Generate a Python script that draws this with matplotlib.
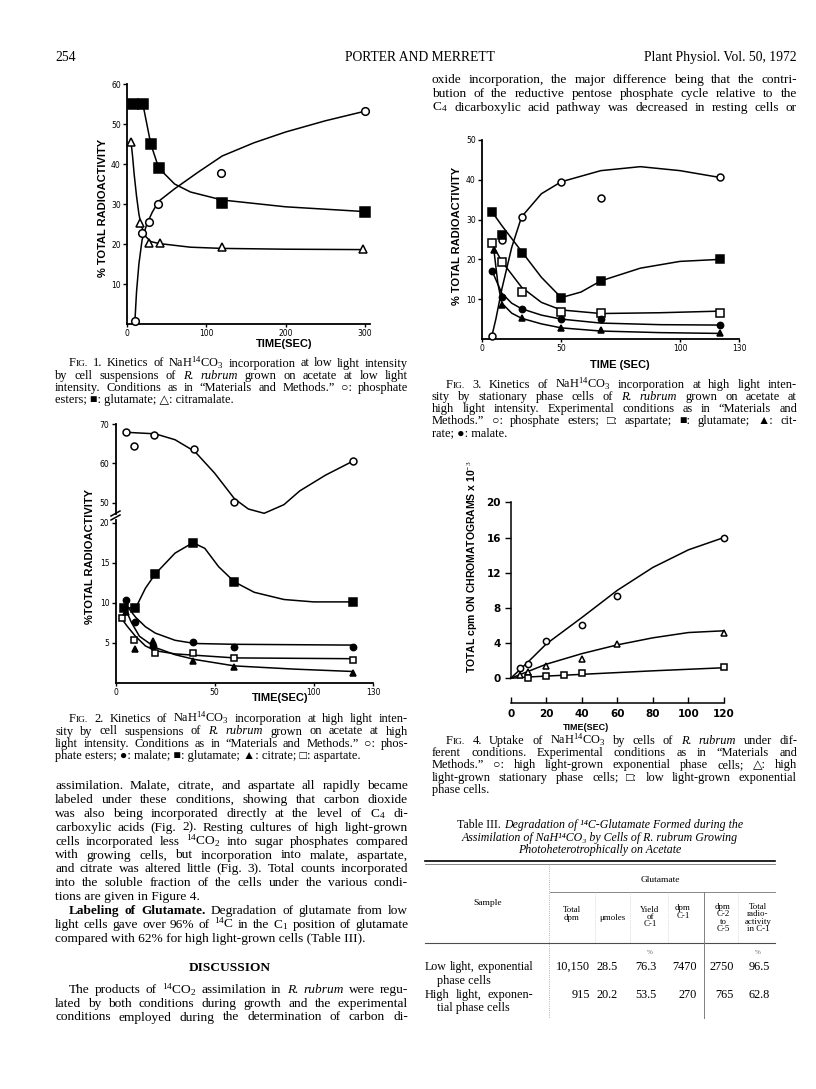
import matplotlib
matplotlib.use('Agg')
import matplotlib.pyplot as plt
from matplotlib.lines import Line2D

# ---------------- data ----------------
# Fig. 1 (low light), % total radioactivity vs time (sec)
f1_glu_t = [7, 20, 30, 40, 120, 300]
f1_glu = [55, 55, 45, 39, 30.3, 28.1]
f1_glu_ct = [7, 20, 30, 40, 60, 80, 120, 200, 300]
f1_glu_c = [55, 55, 45, 39, 35, 33, 31, 29.3, 28.1]
f1_cit_t = [5, 17, 28, 41, 120, 298]
f1_cit = [45.6, 25.2, 20.3, 20.2, 19.3, 18.7]
f1_cit_ct = [5, 7, 9, 12, 15, 18, 24, 30, 41, 80, 120, 200, 298]
f1_cit_c = [45.6, 42, 37.5, 32, 27.5, 24.5, 21.8, 20.6, 20.1, 19.2, 18.9, 18.7, 18.6]
f1_pe_t = [10, 18.5, 28, 38.7, 118.5, 300]
f1_pe = [0.75, 22.8, 25.4, 29.9, 37.7, 53.2]
f1_pe_ct = [10, 12, 15, 19, 25, 32, 40, 60, 90, 120, 160, 200, 250, 300]
f1_pe_c = [0.75, 8, 15, 21, 25, 28, 30.7, 33.8, 38, 42, 45.3, 48, 50.8, 53.2]

# Fig. 2 (high light)
f2_pe_t = [5, 9.4, 19.5, 39.7, 60, 120]
f2_pe = [67.9, 64.5, 67.2, 63.7, 50.1, 60.6]
f2_pe_ct = [5, 20, 30, 40, 50, 60, 67, 75, 85, 93, 106, 120]
f2_pe_c = [67.9, 67.5, 66, 63, 57.5, 51, 48.4, 47.3, 49.5, 53, 57, 60.6]
f2_glu_t = [4, 10, 20, 39, 60, 120]
f2_glu = [9.4, 9.3, 13.6, 17.5, 12.6, 10.1]
f2_glu_ct = [4, 10, 15, 20, 30, 39, 45, 52, 60, 70, 85, 100, 120]
f2_glu_c = [9.4, 9.3, 11.8, 13.6, 16.2, 17.5, 16.8, 14.5, 12.6, 11.3, 10.4, 10.1, 10.1]
f2_mal_t = [5, 10, 19, 39, 60, 120]
f2_mal = [10.4, 7.6, 4.6, 5.05, 4.5, 4.5]
f2_mal_ct = [5, 10, 15, 20, 30, 40, 60, 120]
f2_mal_c = [9.8, 8.2, 7.0, 6.2, 5.3, 4.9, 4.8, 4.7]
f2_cit_t = [5, 10, 19, 39, 60, 120]
f2_cit = [8.9, 4.2, 5.25, 2.7, 2.0, 1.25]
f2_cit_ct = [5, 8, 12, 20, 30, 40, 60, 90, 120]
f2_cit_c = [9.2, 7.5, 5.8, 4.4, 3.5, 2.9, 2.1, 1.7, 1.4]
f2_asp_t = [3, 9.2, 19.8, 39.2, 60, 120]
f2_asp = [8.05, 5.4, 3.75, 3.75, 3.1, 2.9]
f2_asp_ct = [3, 6, 10, 15, 20, 30, 42, 60, 120]
f2_asp_c = [8.0, 7.0, 5.8, 4.6, 4.0, 3.6, 3.4, 3.1, 3.0]

# Fig. 3 (stationary phase, high light)
f3_pe_t = [5, 10, 20, 40, 60, 120]
f3_pe = [0.8, 24.8, 30.7, 39.5, 35.5, 40.6]
f3_pe_ct = [5, 7, 10, 15, 20, 30, 40, 60, 80, 100, 120]
f3_pe_c = [0.8, 5, 12.5, 23, 30.7, 36.5, 39.5, 42.3, 43.3, 42.3, 40.6]
f3_glu_t = [5, 10, 20, 40, 60, 120]
f3_glu = [32, 26.1, 21.7, 10.4, 14.6, 20.0]
f3_glu_ct = [5, 10, 20, 30, 40, 50, 60, 80, 100, 120]
f3_glu_c = [32, 28.5, 22, 15.5, 10.4, 11.8, 14.6, 17.8, 19.5, 20]
f3_asp_t = [5, 10, 20, 40, 60, 120]
f3_asp = [24, 19.3, 11.9, 6.9, 6.45, 6.6]
f3_asp_ct = [5, 10, 20, 30, 40, 60, 90, 120]
f3_asp_c = [24, 19.5, 13, 9.2, 7.3, 6.4, 6.6, 7]
f3_mal_t = [5, 10, 20, 40, 60, 120]
f3_mal = [17.2, 10.6, 7.6, 5.0, 4.9, 3.5]
f3_mal_ct = [5, 10, 15, 20, 30, 40, 60, 90, 120]
f3_mal_c = [17.2, 11.5, 9, 7.6, 6, 5.0, 4.0, 3.6, 3.5]
f3_cit_t = [6, 10, 20, 40, 60, 120]
f3_cit = [22.4, 8.5, 5.2, 2.7, 2.3, 1.4]
f3_cit_ct = [6, 8, 10, 15, 20, 30, 40, 60, 90, 120]
f3_cit_c = [22.4, 14, 9, 6.5, 5.2, 3.8, 2.8, 2.0, 1.6, 1.4]
f3_xticks = [0, 40, 100, 130]
f3_xlabels = ['0', '50', '100', '130']

# Fig. 4, total cpm x 10^-3
f4_hx_t = [5, 10, 20, 40, 60, 120]
f4_hx = [1.2, 1.6, 4.2, 6.1, 9.3, 16.0]
f4_hx_ct = [0, 10, 20, 40, 60, 80, 100, 120]
f4_hx_c = [0, 1.9, 3.9, 6.9, 10.0, 12.6, 14.6, 16.0]
f4_hs_t = [5, 10, 20, 40, 60, 120]
f4_hs = [0.4, 0.75, 1.4, 2.2, 3.85, 5.2]
f4_hs_ct = [0, 10, 20, 40, 60, 80, 100, 120]
f4_hs_c = [0, 0.8, 1.6, 2.8, 3.8, 4.6, 5.2, 5.4]
f4_lx_t = [10, 20, 30, 40, 120]
f4_lx = [0.0, 0.3, 0.4, 0.6, 1.3]
f4_lx_ct = [0, 10, 20, 40, 80, 120]
f4_lx_c = [0, 0.15, 0.25, 0.45, 0.85, 1.2]

# Table III
tab_heads = ['Total\ndpm', '\u03bcmoles', 'Yield\nof\nC-1', 'dpm\nC-1',
             'dpm\nC-2\nto\nC-5', 'Total\nradio-\nactivity\nin C-1']
tab_low = ['10,150', '28.5', '76.3', '7470', '2750', '96.5']
tab_high = ['915', '20.2', '53.5', '270', '765', '62.8']

# ---------------- page text ----------------
# word prefixes: ~ italic, # bold, ^ small capitals
right_top = [
    "oxide incorporation, the major difference being that the contri-",
    "bution of the reductive pentose phosphate cycle relative to the",
    "C$_4$ dicarboxylic acid pathway was decreased in resting cells or",
]
cap1 = [
    "^FIG. 1. Kinetics of NaH$^{14}$CO$_3$ incorporation at low light intensity",
    "by cell suspensions of ~R. ~rubrum grown on acetate at low light",
    "intensity. Conditions as in \u201cMaterials and Methods.\u201d \u25cb: phosphate",
    "esters; \u25a0: glutamate; \u25b3: citramalate.",
]
cap2 = [
    "^FIG. 2. Kinetics of NaH$^{14}$CO$_3$ incorporation at high light inten-",
    "sity by cell suspensions of ~R. ~rubrum grown on acetate at high",
    "light intensity. Conditions as in \u201cMaterials and Methods.\u201d \u25cb: phos-",
    "phate esters; \u25cf: malate; \u25a0: glutamate; \u25b2: citrate; \u25a1: aspartate.",
]
body = [
    "assimilation. Malate, citrate, and aspartate all rapidly became",
    "labeled under these conditions, showing that carbon dioxide",
    "was also being incorporated directly at the level of C$_4$ di-",
    "carboxylic acids (Fig. 2). Resting cultures of high light-grown",
    "cells incorporated less $^{14}$CO$_2$ into sugar phosphates compared",
    "with growing cells, but incorporation into malate, aspartate,",
    "and citrate was altered little (Fig. 3). Total counts incorporated",
    "into the soluble fraction of the cells under the various condi-",
    "tions are given in Figure 4.",
    "#Labeling #of #Glutamate. Degradation of glutamate from low",
    "light cells gave over 96% of $^{14}$C in the C$_1$ position of glutamate",
    "compared with 62% for high light-grown cells (Table III).",
]
discussion = [
    "The products of $^{14}$CO$_2$ assimilation in ~R. ~rubrum were regu-",
    "lated by both conditions during growth and the experimental",
    "conditions employed during the determination of carbon di-",
]
cap3 = [
    "^FIG. 3. Kinetics of NaH$^{14}$CO$_3$ incorporation at high light inten-",
    "sity by stationary phase cells of ~R. ~rubrum grown on acetate at",
    "high light intensity. Experimental conditions as in \u201cMaterials and",
    "Methods.\u201d \u25cb: phosphate esters; \u25a1: aspartate; \u25a0: glutamate; \u25b2: cit-",
    "rate; \u25cf: malate.",
]
cap4 = [
    "^FIG. 4. Uptake of NaH$^{14}$CO$_3$ by cells of ~R. ~rubrum under dif-",
    "ferent conditions. Experimental conditions as in \u201cMaterials and",
    "Methods.\u201d \u25cb: high light-grown exponential phase cells; \u25b3: high",
    "light-grown stationary phase cells; \u25a1: low light-grown exponential",
    "phase cells.",
]
tab_title = [
    "Table III. ~Degradation ~of ~\u00b9\u2074C-Glutamate ~Formed ~during ~the",
    "~Assimilation ~of ~NaH\u00b9\u2074CO\u2083 ~by ~Cells ~of ~R. ~rubrum ~Growing",
    "~Photoheterotrophically ~on ~Acetate",
]

# ---------------- setup ----------------
W, H = 816, 1089
plt.rcParams['font.family'] = ['Liberation Serif', 'DejaVu Serif', 'DejaVu Sans']
plt.rcParams['mathtext.fontset'] = 'custom'
plt.rcParams['mathtext.rm'] = 'Liberation Serif'
plt.rcParams['mathtext.it'] = 'Liberation Serif:italic'
plt.rcParams['mathtext.bf'] = 'Liberation Serif:bold'
plt.rcParams['mathtext.default'] = 'rm'

fig = plt.figure(figsize=(W / 100, H / 100), dpi=100)
fig.patch.set_facecolor('white')
renderer = fig.canvas.get_renderer()

SANS = ['Liberation Sans', 'DejaVu Sans']
TICKF = ['DejaVu Sans']

BODY = 9.6
CAP = 8.9


def fy(y):
    return 1 - y / H


def parse(line):
    out = []
    for w in line.split(' '):
        tag = ''
        if w[:1] in '~#^':
            tag, w = w[0], w[1:]
        out.append((tag, w))
    return out


def groups(words, justify):
    # justified lines: one group per word; free lines: runs of equal style
    if justify:
        return words
    merged = []
    for tag, w in words:
        if merged and merged[-1][0] == tag and tag != '^':
            merged[-1] = (tag, merged[-1][1] + ' ' + w)
        else:
            merged.append((tag, w))
    return merged


def make_group(tag, w, size, y):
    base = dict(va='baseline', ha='left')
    if tag == '^':
        return [fig.text(0, fy(y), w[0], fontsize=size, **base),
                fig.text(0, fy(y), w[1:], fontsize=size * 0.76, **base)]
    kw = {}
    if tag == '~':
        kw['fontstyle'] = 'italic'
    elif tag == '#':
        kw['fontweight'] = 'bold'
    return [fig.text(0, fy(y), w, fontsize=size, **base, **kw)]


def put_line(line, x0, x1, y, size, justify=True, indent=0, center=False):
    start = x0 + indent
    words = groups(parse(line), justify)
    while True:
        items = [make_group(tag, w, size, y + 4) for tag, w in words]
        widths = [[t.get_window_extent(renderer).width for t in g] for g in items]
        total = sum(sum(w) for w in widths)
        gap = size * 100 / 72 * 0.34
        if justify and len(items) > 1:
            gap = (x1 - start - total) / (len(items) - 1)
        if gap >= 2.2 or len(items) < 2:
            break
        # line too long for its measure: shrink slightly and lay out again
        for g in items:
            for t in g:
                t.remove()
        size *= 0.97
    if center:
        start = (x0 + x1) / 2 - (total + gap * (len(items) - 1)) / 2
    x = start
    for g, wl in zip(items, widths):
        for t, wd in zip(g, wl):
            t.set_x(x / W)
            x += wd
        x += gap


def put_par(lines, x0, x1, y0, step, size, indent=14, last_free=True):
    for i, ln in enumerate(lines):
        free = last_free and i == len(lines) - 1
        put_line(ln, x0, x1, y0 + i * step, size, justify=not free,
                 indent=indent if i == 0 else 0)


def px_axes(x0, y0, x1, y1):
    return fig.add_axes([x0 / W, fy(y1), (x1 - x0) / W, (y1 - y0) / H])


def style(ax):
    ax.patch.set_alpha(0)
    for s in ['top', 'right']:
        ax.spines[s].set_visible(False)
    for s in ['left', 'bottom']:
        ax.spines[s].set_linewidth(1.3)
    ax.tick_params(length=3, width=1, pad=1.5)


def series(ax, t, y, ct, cy, marker, filled, ms):
    ax.plot(ct, cy, color='black', lw=1.1, zorder=2, clip_on=False)
    ax.plot(t, y, ls='none', marker=marker, ms=ms, mfc='black' if filled else 'white',
            mec='black', mew=1.1, zorder=3, clip_on=False)


def line_px(x0, y0, x1, y1, **kw):
    fig.add_artist(Line2D([x0 / W, x1 / W], [fy(y0), fy(y1)], transform=fig.transFigure, **kw))


# ---------------- header ----------------
fig.text(55 / W, fy(61), '254', fontsize=9.8, va='baseline')
fig.text(420 / W, fy(61), 'PORTER AND MERRETT', fontsize=9.8, va='baseline', ha='center')
fig.text(797 / W, fy(61), 'Plant Physiol. Vol. 50, 1972', fontsize=9.8, va='baseline', ha='right')

LX0, LX1 = 55, 408
RX0, RX1 = 432, 797
put_par(right_top, RX0, RX1, 79, 13.8, BODY, indent=0, last_free=False)

# ---------------- Fig. 1 ----------------
ax1 = px_axes(127, 84, 369.7, 324)
style(ax1)
ax1.set_xlim(0, 306)
ax1.set_ylim(0, 60)
series(ax1, f1_pe_t, f1_pe, f1_pe_ct, f1_pe_c, 'o', False, 5.5)
series(ax1, f1_glu_t, f1_glu, f1_glu_ct, f1_glu_c, 's', True, 6.5)
series(ax1, f1_cit_t, f1_cit, f1_cit_ct, f1_cit_c, '^', False, 6)
ax1.set_xticks([0, 100, 200, 300], labels=['0', '100', '200', '300'], fontsize=5.5, fontfamily=TICKF)
ax1.set_yticks([10, 20, 30, 40, 50, 60], labels=['10', '20', '30', '40', '50', '60'], fontsize=5.5, fontfamily=TICKF)
ax1.tick_params(axis='x', length=2)
fig.text(103 / W, fy(208), '% TOTAL RADIOACTIVITY', rotation=90, ha='center', va='center',
         fontsize=8, fontweight='bold', family=SANS)
fig.text(284 / W, fy(344), 'TIME(SEC)', ha='center', va='center', fontsize=8, fontweight='bold', family=SANS)
put_par(cap1, LX0, LX1, 362.5, 12.2, CAP)

# ---------------- Fig. 2 (broken axis) ----------------
ax2a = px_axes(115.7, 424, 373, 514.5)
ax2b = px_axes(115.7, 520.3, 373, 682.7)
for a in (ax2a, ax2b):
    style(a)
    a.set_xlim(0, 130)
ax2a.spines['bottom'].set_visible(False)
ax2a.set_xticks([])
ax2a.set_ylim(47, 70)
ax2a.set_yticks([50, 60, 70], labels=['50', '60', '70'], fontsize=5.5, fontfamily=TICKF)
ax2b.set_ylim(0, 20.3)
ax2b.set_yticks([5, 10, 15, 20], labels=['5', '10', '15', '20'], fontsize=5.5, fontfamily=TICKF)
ax2b.set_xticks([0, 50, 100, 130], labels=['0', '50', '100', '130'], fontsize=5.5, fontfamily=TICKF)
ax2b.tick_params(axis='x', length=2)
series(ax2a, f2_pe_t, f2_pe, f2_pe_ct, f2_pe_c, 'o', False, 5)
series(ax2b, f2_glu_t, f2_glu, f2_glu_ct, f2_glu_c, 's', True, 5.5)
series(ax2b, f2_mal_t, f2_mal, f2_mal_ct, f2_mal_c, 'o', True, 4.5)
series(ax2b, f2_asp_t, f2_asp, f2_asp_ct, f2_asp_c, 's', False, 5)
series(ax2b, f2_cit_t, f2_cit, f2_cit_ct, f2_cit_c, '^', True, 5)
line_px(111, 516, 120, 511, color='black', lw=1.1)
line_px(111, 520, 120, 515, color='black', lw=1.1)
fig.text(90 / W, fy(556), '%TOTAL RADIOACTIVITY', rotation=90, ha='center', va='center',
         fontsize=8, fontweight='bold', family=SANS)
fig.text(280 / W, fy(698), 'TIME(SEC)', ha='center', va='center', fontsize=8, fontweight='bold', family=SANS)
put_par(cap2, LX0, LX1, 718.3, 12.2, CAP)

# ---------------- left column body ----------------
put_par(body[:9], LX0, LX1, 785, 13.9, BODY, indent=0)
put_par(body[9:], LX0, LX1, 785 + 9 * 13.9, 13.9, BODY, indent=14)
fig.text(230 / W, fy(971), 'DISCUSSION', ha='center', va='baseline', fontsize=9.6, fontweight='bold')
put_par(discussion, LX0, LX1, 989.3, 13.6, BODY, indent=14, last_free=False)

# ---------------- Fig. 3 ----------------
ax3 = px_axes(482, 140, 739.4, 339)
style(ax3)
ax3.set_xlim(0, 130)
ax3.set_ylim(0, 50)
series(ax3, f3_pe_t, f3_pe, f3_pe_ct, f3_pe_c, 'o', False, 5)
series(ax3, f3_glu_t, f3_glu, f3_glu_ct, f3_glu_c, 's', True, 5.5)
series(ax3, f3_asp_t, f3_asp, f3_asp_ct, f3_asp_c, 's', False, 5.5)
series(ax3, f3_mal_t, f3_mal, f3_mal_ct, f3_mal_c, 'o', True, 4.5)
series(ax3, f3_cit_t, f3_cit, f3_cit_ct, f3_cit_c, '^', True, 5)
ax3.set_xticks(f3_xticks, labels=f3_xlabels, fontsize=5.5, fontfamily=TICKF)
ax3.set_yticks([10, 20, 30, 40, 50], labels=['10', '20', '30', '40', '50'], fontsize=5.5, fontfamily=TICKF)
ax3.tick_params(axis='x', length=2)
fig.text(457 / W, fy(236), '% TOTAL RADIOACTIVITY', rotation=90, ha='center', va='center',
         fontsize=8, fontweight='bold', family=SANS)
fig.text(620 / W, fy(365), 'TIME (SEC)', ha='center', va='center', fontsize=8, fontweight='bold', family=SANS)
put_par(cap3, RX0, RX1, 383.5, 12.2, CAP)

# ---------------- Fig. 4 ----------------
ax4 = px_axes(510.7, 502.3, 724, 678.3)
style(ax4)
ax4.set_xlim(0, 120)
ax4.set_ylim(0, 20)
ax4.spines['bottom'].set_position(('outward', 18))
ax4.spines['left'].set_linewidth(1.1)
ax4.spines['bottom'].set_linewidth(1.1)
series(ax4, f4_hx_t, f4_hx, f4_hx_ct, f4_hx_c, 'o', False, 4.5)
series(ax4, f4_hs_t, f4_hs, f4_hs_ct, f4_hs_c, '^', False, 5)
series(ax4, f4_lx_t, f4_lx, f4_lx_ct, f4_lx_c, 's', False, 5)
ax4.set_xticks([0, 20, 40, 60, 80, 100, 120], labels=['0', '20', '40', '60', '80', '100', '120'],
               fontsize=7.5, fontweight='bold', fontfamily=TICKF)
ax4.set_yticks([0, 4, 8, 12, 16, 20], labels=['0', '4', '8', '12', '16', '20'],
               fontsize=7.5, fontweight='bold', fontfamily=TICKF)
ax4.tick_params(axis='x', direction='in', length=4, pad=4)
ax4.tick_params(axis='y', length=4, pad=3)
fig.text(473 / W, fy(567), 'TOTAL cpm ON CHROMATOGRAMS x 10$^{-3}$', rotation=90, ha='center', va='center',
         fontsize=7.5, fontweight='bold', family=SANS)
fig.text(586 / W, fy(727), 'TIME(SEC)', ha='center', va='center', fontsize=6.5, fontweight='bold', family=SANS)
put_par(cap4, RX0, RX1, 740, 12.2, CAP)

# ---------------- Table III ----------------
TX0, TX1 = 425, 775
for i, ln in enumerate(tab_title):
    put_line(ln, TX0, TX1, 824 + i * 12.5, 8.6, justify=False, center=True)

line_px(TX0, 861, TX1, 861, color='black', lw=1.2)
line_px(TX0, 863.5, TX1, 863.5, color='0.45', lw=0.6)
line_px(550, 892, TX1, 892, color='0.45', lw=0.6)
line_px(TX0, 943, TX1, 943, color='0.3', lw=0.8)
line_px(549, 864, 549, 1018, color='0.6', lw=0.6, ls=':')
line_px(704, 892, 704, 1018, color='0.5', lw=0.7)
for xv in [595, 630, 668, 738]:
    line_px(xv, 892, xv, 943, color='0.75', lw=0.5, ls=':')

fig.text(660 / W, fy(880), 'Glutamate', ha='center', va='center', fontsize=6.8)
fig.text(488 / W, fy(903), 'Sample', ha='center', va='center', fontsize=6.8)
head_x = [572, 612, 650, 683, 723, 758]
head_y = [914, 918, 917, 912, 918, 918]
for hx, hy, txt in zip(head_x, head_y, tab_heads):
    fig.text(hx / W, fy(hy), txt, ha='center', va='center', fontsize=6.4, linespacing=0.85)
fig.text(650 / W, fy(952), '%', ha='center', va='center', fontsize=5, color='0.4')
fig.text(758 / W, fy(952), '%', ha='center', va='center', fontsize=5, color='0.4')

val_x = [590, 618, 657, 697, 734, 770]
put_line('Low light, exponential', TX0, 533, 966, 8.8)
put_line('phase cells', 437, 533, 980, 8.8, justify=False)
put_line('High light, exponen-', TX0, 533, 994, 8.8)
put_line('tial phase cells', 437, 533, 1007.5, 8.8, justify=False)
for vx, lo, hi in zip(val_x, tab_low, tab_high):
    fig.text(vx / W, fy(970), lo, ha='right', va='baseline', fontsize=8.8)
    fig.text(vx / W, fy(998), hi, ha='right', va='baseline', fontsize=8.8)

fig.savefig('out.png', dpi=100, facecolor='white')
